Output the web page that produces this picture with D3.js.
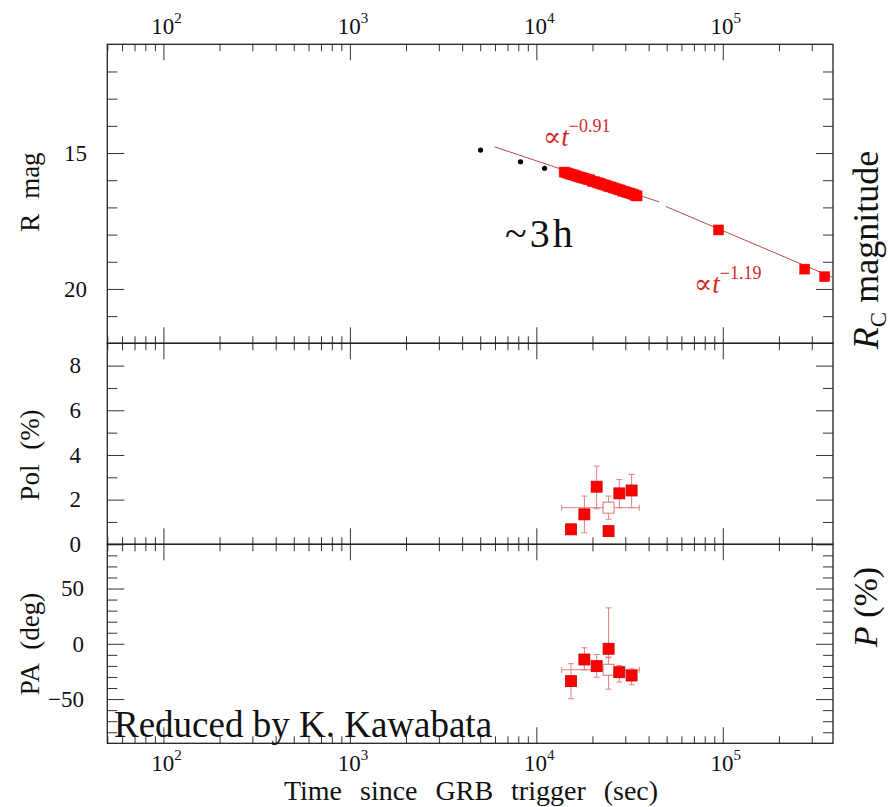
<!DOCTYPE html>
<html><head><meta charset="utf-8">
<script src="https://cdn.jsdelivr.net/npm/d3@7"></script>
<style>
body{margin:0;background:#fff}
svg{display:block}
svg text{font-family:"Times New Roman",Times,"Liberation Serif",Tinos,"Noto Serif","DejaVu Serif",FreeSerif,serif;fill:#111}
</style>
</head><body><svg id="c" width="890" height="807"></svg>
<script>
// ---------------- data ----------------
const decades = [2, 3, 4, 5];
// early black points (R mag)
const blackT = [5020, 8220, 11070];
const blackM = [14.89, 15.32, 15.56];
// red R-band points
const redT = [14100, 14500, 14900, 15300, 15700, 16100, 16500, 17000, 17400, 17900,
  18400, 18900, 19400, 20000, 20600, 21200, 21800, 22400, 23000, 23700,
  24400, 25100, 25800, 26600, 27400, 28200, 29000, 29800, 30600, 31500,
  32400, 33300, 34000, 34700, 94900, 275000, 352000];
const redM = [15.70, 15.73, 15.75, 15.78, 15.80, 15.82, 15.85, 15.88, 15.90, 15.92,
  15.95, 15.97, 15.99, 16.04, 16.06, 16.09, 16.11, 16.14, 16.17, 16.19,
  16.23, 16.25, 16.28, 16.31, 16.34, 16.36, 16.40, 16.42, 16.45, 16.47,
  16.50, 16.53, 16.56, 16.58, 17.83, 19.27, 19.55];
// broken power-law fit segments
const fit1T = [5960, 45600];
const fit1M = [14.77, 16.80];
const fit2T = [49600, 390000];
const fit2M = [16.97, 19.58];
// polarimetry
const polT = [15350, 18100, 21060, 24400, 27870, 32430];
const polV = [0.67, 1.34, 2.58, 0.59, 2.28, 2.41];
const polLo = [0.45, 0.52, 1.59, 0.37, 1.64, 1.64];
const polHi = [0.90, 2.16, 3.50, 0.82, 2.90, 3.13];
const paV = [-33.8, -14.2, -20.2, -4.5, -25.7, -28.7];
const paLo = [-49.7, -23.5, -30.2, -12.7, -34.6, -37.1];
const paHi = [-18.0, -3.6, -9.7, 32.5, -19.6, -22.6];
// average (open symbol)
const avgT = [24400], avgTLo = [13680], avgTHi = [35650];
const avgPol = [1.64], avgPolLo = [1.12], avgPolHi = [2.16];
const avgPa = [-23.5], avgPaLo = [-41], avgPaHi = [-12];
// axis ticks
const rMajor = [15, 20], rMinor = [12, 13, 14, 16, 17, 18, 19, 21];
const pMajor = [0, 2, 4, 6, 8], pMinor = [1, 3, 5, 7];
const aMajor = [-50, 0, 50], aMinor = [-80, -70, -60, -40, -30, -20, -10, 10, 20, 30, 40, 60, 70, 80];

// ---------------- layout ----------------
const svg = d3.select("#c");
const L = 107.3, R = 833;
const x = d3.scaleLog().domain([50, 3.9e5]).range([L, R]);
const yR = d3.scaleLinear().domain([11, 22]).range([44.3, 343.3]);
const yP = d3.scaleLinear().domain([0, 9]).range([544.3, 343.3]);
const yA = d3.scaleLinear().domain([-90, 90]).range([743.3, 544.3]);
const panels = [yR, yP, yA];

const xMajor = decades.map(d => Math.pow(10, d));
const xMinor = [];
for (let e = 1; e <= 5; e++) for (let m = 2; m <= 9; m++) {
  const v = m * Math.pow(10, e);
  if (v >= 50 && v <= 3.9e5) xMinor.push(v);
}
const tickCol = "#333";
function styleAxis(g) {
  g.select(".domain").remove();
  g.selectAll("line").attr("stroke", tickCol).attr("stroke-width", 1);
  g.selectAll("text").remove();
}
panels.forEach(ys => {
  const [yb, yt] = ys.range();
  const bottom = Math.max(yb, yt), top = Math.min(yb, yt);
  [[xMajor, 16], [xMinor, 7]].forEach(([vals, len]) => {
    svg.append("g").attr("transform", `translate(0,${bottom})`)
      .call(d3.axisTop(x).tickValues(vals).tickSize(len).tickFormat("")).call(styleAxis);
    svg.append("g").attr("transform", `translate(0,${top})`)
      .call(d3.axisBottom(x).tickValues(vals).tickSize(len).tickFormat("")).call(styleAxis);
  });
});
[[yR, rMajor, rMinor], [yP, pMajor, pMinor], [yA, aMajor, aMinor]].forEach(([ys, maj, min]) => {
  [[maj, 17], [min, 10]].forEach(([vals, len]) => {
    svg.append("g").attr("transform", `translate(${L},0)`)
      .call(d3.axisRight(ys).tickValues(vals).tickSize(len).tickFormat("")).call(styleAxis);
    svg.append("g").attr("transform", `translate(${R},0)`)
      .call(d3.axisLeft(ys).tickValues(vals).tickSize(len).tickFormat("")).call(styleAxis);
  });
});
panels.forEach(ys => {
  const r = ys.range();
  svg.append("rect").attr("x", L).attr("y", Math.min(...r))
    .attr("width", R - L).attr("height", Math.abs(r[0] - r[1]))
    .attr("fill", "none").attr("stroke", "#222").attr("stroke-width", 1.3);
});

function yLabels(ys, vals, xEnd) {
  svg.append("g").selectAll("text").data(vals).join("text")
    .attr("x", xEnd).attr("y", d => ys(d)).attr("dy", "0.34em")
    .attr("text-anchor", "end").attr("font-size", 23)
    .text(d => d < 0 ? "\u2212" + Math.abs(d) : d);
}
yLabels(yR, rMajor, 87);
yLabels(yP, pMajor, 81);
yLabels(yA, aMajor, 84);

function xLabels(yBase) {
  const t = svg.append("g").selectAll("text").data(decades).join("text")
    .attr("x", d => x(Math.pow(10, d)) + 3).attr("y", yBase)
    .attr("text-anchor", "middle").attr("font-size", 23);
  t.append("tspan").text("10");
  t.append("tspan").attr("font-size", 15).attr("dy", -11).text(d => d);
}
xLabels(34);
xLabels(771);

function vTitle(txt, cx, cy, size) {
  return svg.append("text").attr("transform", `translate(${cx},${cy}) rotate(-90)`)
    .attr("text-anchor", "middle").attr("dy", "0.35em")
    .attr("font-size", size).attr("word-spacing", 8).text(txt);
}
vTitle("R mag", 30, 192, 27);
vTitle("Pol (%)", 30, 455, 27);
vTitle("PA (deg)", 30, 644, 27);
const rc = svg.append("text").attr("transform", "translate(865,250) rotate(-90)")
  .attr("text-anchor", "middle").attr("dy", "0.35em").attr("font-size", 36);
rc.append("tspan").attr("font-style", "italic").text("R");
rc.append("tspan").attr("font-size", 23).attr("dy", 8).text("C");
rc.append("tspan").attr("dy", -8).text("\u00a0magnitude");
const pp = svg.append("text").attr("transform", "translate(865,607) rotate(-90)")
  .attr("text-anchor", "middle").attr("dy", "0.35em").attr("font-size", 34);
pp.append("tspan").attr("font-style", "italic").text("P");
pp.append("tspan").text("\u00a0(%)");
svg.append("text").attr("x", 471).attr("y", 800).attr("text-anchor", "middle")
  .attr("font-size", 28).attr("word-spacing", 11).text("Time since GRB trigger (sec)");

// ---------------- marks ----------------
const red = "#ff0000", redEdge = "#c80000", errCol = "#e88080", fitCol = "#c04848";
const line = d3.line();
svg.append("path").attr("d", line(fit1T.map((t, i) => [x(t), yR(fit1M[i])])))
  .attr("stroke", fitCol).attr("stroke-width", 1).attr("fill", "none");
svg.append("path").attr("d", line(fit2T.map((t, i) => [x(t), yR(fit2M[i])])))
  .attr("stroke", fitCol).attr("stroke-width", 1).attr("fill", "none");

svg.append("g").selectAll("circle").data(blackT).join("circle")
  .attr("cx", d => x(d)).attr("cy", (d, i) => yR(blackM[i])).attr("r", 2.6).attr("fill", "#000");

const sq = 10;
svg.append("g").selectAll("rect").data(redT).join("rect")
  .attr("x", d => x(d) - sq / 2).attr("y", (d, i) => yR(redM[i]) - sq / 2)
  .attr("width", sq).attr("height", sq).attr("fill", red).attr("stroke", red).attr("stroke-width", 0.5);

function errV(ys, ts, lo, hi) {
  const g = svg.append("g").attr("stroke", errCol).attr("stroke-width", 1);
  ts.forEach((t, i) => {
    const xx = x(t);
    g.append("line").attr("x1", xx).attr("x2", xx).attr("y1", ys(lo[i])).attr("y2", ys(hi[i]));
    [lo[i], hi[i]].forEach(v => g.append("line").attr("x1", xx - 3).attr("x2", xx + 3).attr("y1", ys(v)).attr("y2", ys(v)));
  });
}
function errH(ys, vs, tlo, thi) {
  const g = svg.append("g").attr("stroke", errCol).attr("stroke-width", 1);
  vs.forEach((v, i) => {
    const yy = ys(v);
    g.append("line").attr("x1", x(tlo[i])).attr("x2", x(thi[i])).attr("y1", yy).attr("y2", yy);
    [tlo[i], thi[i]].forEach(t => g.append("line").attr("x1", x(t)).attr("x2", x(t)).attr("y1", yy - 3).attr("y2", yy + 3));
  });
}
function squares(ys, ts, vs, filled) {
  const s = 11;
  svg.append("g").selectAll("rect").data(ts).join("rect")
    .attr("x", d => x(d) - s / 2).attr("y", (d, i) => ys(vs[i]) - s / 2)
    .attr("width", s).attr("height", s)
    .attr("fill", filled ? red : "#fff").attr("stroke", filled ? redEdge : "#e07070")
    .attr("stroke-width", filled ? 0.8 : 1);
}
errH(yP, avgPol, avgTLo, avgTHi);
errV(yP, avgT, avgPolLo, avgPolHi);
squares(yP, avgT, avgPol, false);
errV(yP, polT, polLo, polHi);
squares(yP, polT, polV, true);
errH(yA, avgPa, avgTLo, avgTHi);
errV(yA, avgT, avgPaLo, avgPaHi);
squares(yA, avgT, avgPa, false);
errV(yA, polT, paLo, paHi);
squares(yA, polT, paV, true);

// ---------------- annotations ----------------
const annCol = "#d42a2a";
function powLab(px, py, expo) {
  const t = svg.append("text").attr("x", px).attr("y", py).attr("font-size", 27).style("fill", annCol);
  t.append("tspan").text("\u221d");
  t.append("tspan").attr("font-style", "italic").text("t");
  t.append("tspan").attr("font-size", 18).attr("dy", -14).text(expo);
}
powLab(543, 146, "\u22120.91");
powLab(694, 293, "\u22121.19");
svg.append("text").attr("x", 505).attr("y", 247).attr("font-size", 40).attr("letter-spacing", 3).text("~3h");
svg.append("text").attr("x", 114).attr("y", 737).attr("font-size", 37).text("Reduced by K. Kawabata");
</script></body></html>
